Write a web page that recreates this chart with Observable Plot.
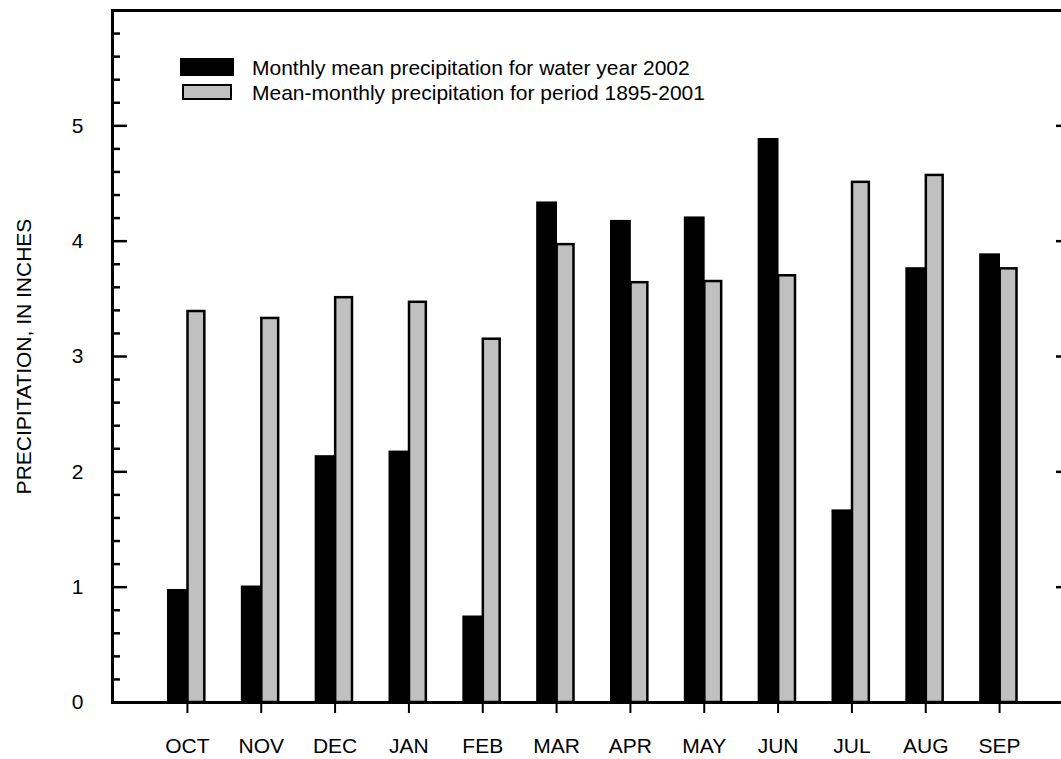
<!DOCTYPE html>
<html>
<head>
<meta charset="utf-8">
<script src="https://cdn.jsdelivr.net/npm/d3@7"></script>
<script src="https://cdn.jsdelivr.net/npm/@observablehq/plot@0.6"></script>
<style>
  html, body { margin: 0; padding: 0; background: #fff; overflow: hidden; }
  #wrap { position: relative; width: 1075px; height: 759px; font-family: "Liberation Sans", Arial, sans-serif; }
  .sw { position: absolute; box-sizing: border-box; }
  .lt { position: absolute; font-size: 21px; line-height: 21px; color: #000; white-space: nowrap; }
</style>
</head>
<body>
<div id="wrap">
  <div class="sw" style="left:180px;top:58px;width:54px;height:18px;background:#000;"></div>
  <div class="lt" style="left:252px;top:57px;">Monthly mean precipitation for water year 2002</div>
  <div class="sw" style="left:182px;top:84px;width:50px;height:16px;background:#c0c0c0;border:2px solid #000;"></div>
  <div class="lt" style="left:252px;top:82px;">Mean-monthly precipitation for period 1895-2001</div>
</div>
<script>
const months = ["OCT", "NOV", "DEC", "JAN", "FEB", "MAR", "APR", "MAY", "JUN", "JUL", "AUG", "SEP"];
const wy2002 = [0.98, 1.01, 2.14, 2.18, 0.75, 4.34, 4.18, 4.21, 4.89, 1.67, 3.77, 3.89];
const mean18952001 = [3.39, 3.33, 3.51, 3.47, 3.15, 3.97, 3.64, 3.65, 3.70, 4.51, 4.57, 3.76];
const yTicks = [0, 1, 2, 3, 4, 5];
const majorTicks = [1, 2, 3, 4, 5];
const minorTicks = [0.2,0.4,0.6,0.8,1.2,1.4,1.6,1.8,2.2,2.4,2.6,2.8,3.2,3.4,3.6,3.8,4.2,4.4,4.6,4.8,5.2,5.4,5.6,5.8];

const table = months.map((m, i) => ({month: m, wy: wy2002[i], mean: mean18952001[i]}));

const W = 1075, ML = 112, MR = 4;
const FW = W - ML - MR;

const chart = Plot.plot({
  width: W,
  height: 759,
  marginLeft: ML,
  marginRight: MR,
  marginTop: 10,
  marginBottom: 57,
  style: "max-width:none;overflow:hidden;background:transparent;font-family:'Liberation Sans',Arial,sans-serif;font-size:21px;color:#000;",
  x: {type: "band", domain: months, range: [150, 1036], paddingInner: 0, paddingOuter: 0, round: false},
  y: {domain: [0, 6]},
  marks: [
    Plot.barY(table, {x: "month", y: "wy", fill: "#000", insetLeft: 17, insetRight: 36}),
    Plot.barY(table, {x: "month", y: "mean", fill: "#c0c0c0", stroke: "#000", strokeWidth: 2.5, insetLeft: 37.5, insetRight: 19.5}),
    Plot.tickY(majorTicks, {y: d => d, stroke: "#000", strokeWidth: 2.5, insetRight: FW - 15}),
    Plot.tickY(minorTicks, {y: d => d, stroke: "#000", strokeWidth: 2.5, insetRight: FW - 8}),
    Plot.tickY(majorTicks, {y: d => d, stroke: "#000", strokeWidth: 2.5, insetLeft: FW - 15}),
    Plot.frame({stroke: "#000", strokeWidth: 3}),
    Plot.axisY({ticks: yTicks, tickSize: 0, tickPadding: 29, label: null, fontSize: 21, tickFormat: d => d}),
    Plot.axisX({tickSize: 11, tickPadding: 25, label: null, fontSize: 21, strokeWidth: 2}),
    Plot.text(["PRECIPITATION, IN INCHES"], {frameAnchor: "left", dx: -88, rotate: -90, fontSize: 21, textAnchor: "middle", fill: "#000"})
  ]
});
chart.style.position = "absolute";
chart.style.left = "0px";
chart.style.top = "0px";
document.getElementById("wrap").prepend(chart);
</script>
</body>
</html>
